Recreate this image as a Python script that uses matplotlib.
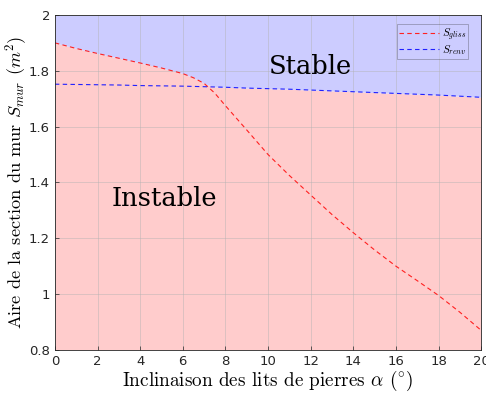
import matplotlib.pyplot as plt
import numpy as np

plt.rcParams['mathtext.fontset'] = 'cm'

# inclinaison (deg) et sections
alpha = [0, 1, 2, 3, 4, 5, 6, 6.5, 7, 7.5, 8, 9, 10, 11, 12, 13, 14, 15, 16, 17, 18, 19, 20]
s_gliss = [1.900, 1.880, 1.862, 1.845, 1.828, 1.810, 1.790, 1.775, 1.755, 1.720, 1.675, 1.588,
           1.500, 1.425, 1.355, 1.285, 1.220, 1.158, 1.100, 1.048, 0.995, 0.935, 0.870]
s_renv = [1.752, 1.751, 1.750, 1.749, 1.747, 1.746, 1.745, 1.744, 1.743, 1.742, 1.741, 1.738,
          1.736, 1.734, 1.731, 1.728, 1.725, 1.722, 1.719, 1.716, 1.713, 1.709, 1.705]

x = np.array(alpha)
g = np.array(s_gliss)
r = np.array(s_renv)
lim = np.maximum(g, r)

fig = plt.figure(figsize=(4.86, 3.94), dpi=100)
ax = fig.add_axes([0.113, 0.112, 0.877, 0.850])

ax.fill_between(x, 0.8, lim, color='#ffcccc', lw=0)
ax.fill_between(x, lim, 2, color='#ccccff', lw=0)
ax.plot(x, g, '--', color='#ff2020', lw=0.8, dashes=(4, 3), label=r'$S_{gliss}$')
ax.plot(x, r, '--', color='#2020ff', lw=0.8, dashes=(4, 3), label=r'$S_{renv}$')

ax.text(12.0, 1.816, 'Stable', fontsize=18.5, family='DejaVu Serif', ha='center', va='center')
ax.text(5.14, 1.341, 'Instable', fontsize=18.5, family='DejaVu Serif', ha='center', va='center')

ax.set_xlim(0, 20)
ax.set_ylim(0.8, 2)
ax.set_xticks(range(0, 21, 2))
ax.set_yticks([0.8, 1, 1.2, 1.4, 1.6, 1.8, 2])
ax.set_yticklabels(['0.8', '1', '1.2', '1.4', '1.6', '1.8', '2'])
ax.tick_params(direction='in', labelsize=9.5, length=3, width=0.5, colors='#262626')
ax.grid(True, color='#b0b0b0', lw=0.5, alpha=0.6)
for s in ax.spines.values():
    s.set_linewidth(0.6)
    s.set_color('#262626')

ax.set_xlabel(r'Inclinaison des lits de pierres $\alpha$ $(^{\circ})$', family='cmr10', fontsize=13.8, labelpad=1)
ax.set_ylabel(r'Aire de la section du mur $S_{mur}$ $(m^2)$', family='cmr10', fontsize=13.2, labelpad=0)

leg = ax.legend(loc='upper right', bbox_to_anchor=(0.9695, 0.973), borderaxespad=0,
                fontsize=8, handlelength=3.6, fancybox=False, framealpha=0.4,
                borderpad=0.2, labelspacing=0.0, handletextpad=0.2)
leg.get_frame().set_facecolor('#ccccff')
leg.get_frame().set_edgecolor('#262626')
leg.get_frame().set_linewidth(0.5)

fig.savefig('out.png', dpi=100)
